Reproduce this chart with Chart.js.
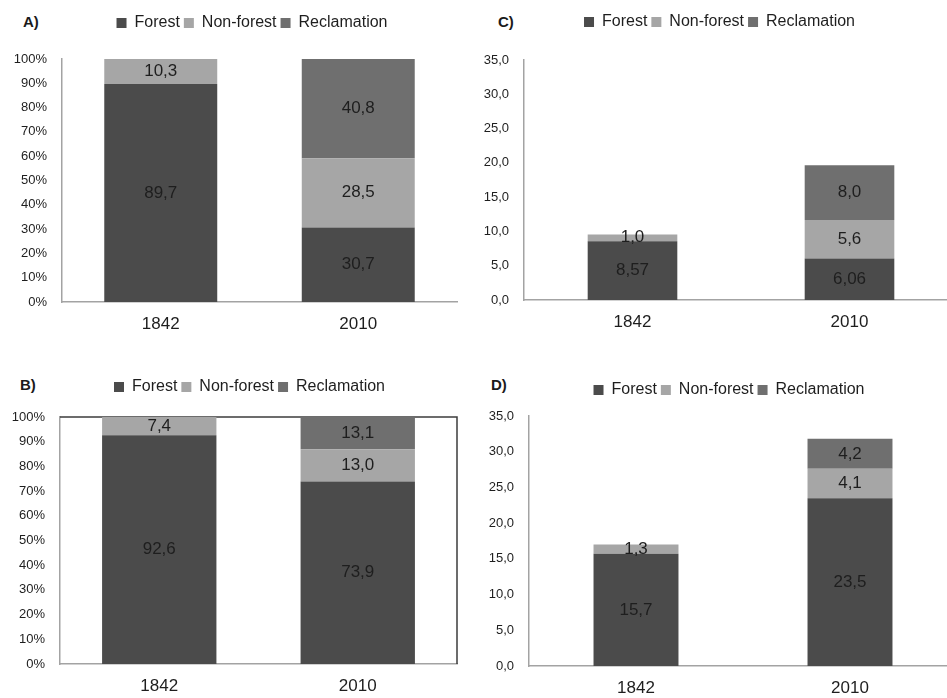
<!DOCTYPE html>
<html>
<head>
<meta charset="utf-8">
<script src="https://cdn.jsdelivr.net/npm/chart.js@4.4.0/dist/chart.umd.min.js"></script>
<style>
html,body{margin:0;padding:0;width:947px;height:698px;overflow:hidden;background:#fff;}
.panel{position:absolute;}
.tag{position:absolute;font:bold 15px 'Liberation Sans',Arial,sans-serif;color:#1a1a1a;line-height:18px;}
</style>
</head>
<body>
<div class="tag" style="left:23px;top:13px">A)</div>
<div class="tag" style="left:498px;top:13px">C)</div>
<div class="tag" style="left:20px;top:376px">B)</div>
<div class="tag" style="left:491px;top:376px">D)</div>
<div class="panel" style="left:0px;top:0px"><canvas id="cA" width="470" height="340"></canvas></div>
<div class="panel" style="left:470px;top:0px"><canvas id="cC" width="490" height="340"></canvas></div>
<div class="panel" style="left:0px;top:360px"><canvas id="cB" width="470" height="338"></canvas></div>
<div class="panel" style="left:470px;top:360px"><canvas id="cD" width="490" height="338"></canvas></div>
<script>
// ---- data ----
const categories = ['1842', '2010'];
const seriesNames = ['Forest', 'Non-forest', 'Reclamation'];

const A_forest = [89.7, 30.7];
const A_nonforest = [10.3, 28.5];
const A_reclamation = [null, 40.8];

const B_forest = [92.6, 73.9];
const B_nonforest = [7.4, 13.0];
const B_reclamation = [null, 13.1];

const C_forest = [8.57, 6.06];
const C_nonforest = [1.0, 5.6];
const C_reclamation = [null, 8.0];

const D_forest = [15.7, 23.5];
const D_nonforest = [1.3, 4.1];
const D_reclamation = [null, 4.2];

const percentTicks = [0, 10, 20, 30, 40, 50, 60, 70, 80, 90, 100];
const areaTicks = [0, 5, 10, 15, 20, 25, 30, 35];

// ---- styling ----
const FONT = "'Liberation Sans', Arial, sans-serif";
const colors = ['#4b4b4b', '#a6a6a6', '#6f6f6f'];
const axisColor = '#a3a3a3';
const textColor = '#1e1e1e';

const comma = (v, d) => v.toFixed(d).replace('.', ',');

const legendPlace = {
  id: 'legendPlace',
  afterLayout(chart, args, opts) {
    const lg = chart.legend;
    if (!lg) return;
    const pad = chart.options.plugins.legend.labels.padding;
    const fs = chart.options.plugins.legend.labels.font.size;
    const cx = (lg.left + lg.right) / 2;
    const cy = lg.top + pad + fs / 2;
    const dx = opts.x - cx, dy = opts.y - cy;
    lg.left += dx; lg.right += dx; lg.top += dy; lg.bottom += dy;
  }
};

const segLabels = {
  id: 'segLabels',
  afterDatasetsDraw(chart) {
    const ctx = chart.ctx;
    ctx.save();
    ctx.font = '17px ' + FONT;
    ctx.fillStyle = textColor;
    ctx.textAlign = 'center';
    ctx.textBaseline = 'middle';
    chart.data.datasets.forEach((ds, di) => {
      const meta = chart.getDatasetMeta(di);
      meta.data.forEach((el, i) => {
        const v = ds.data[i];
        if (v === null || v === undefined) return;
        const p = el.getProps(['x', 'y', 'base'], true);
        ctx.fillText(comma(v, ds.decimals || 1), p.x, (p.y + p.base) / 2);
      });
    });
    ctx.restore();
  }
};

const frame = {
  id: 'frame',
  beforeDatasetsDraw(chart, args, opts) {
    if (!opts.on) return;
    const a = chart.chartArea, ctx = chart.ctx;
    ctx.save();
    ctx.strokeStyle = '#3c3c3c';
    ctx.lineWidth = 1.5;
    ctx.beginPath();
    ctx.moveTo(a.left, a.top);
    ctx.lineTo(a.right, a.top);
    ctx.lineTo(a.right, a.bottom);
    ctx.stroke();
    ctx.restore();
  }
};

function makeChart(id, cfg) {
  const datasets = [cfg.forest, cfg.nonforest, cfg.reclamation].map((d, k) => ({
    label: seriesNames[k],
    data: d,
    backgroundColor: colors[k],
    borderWidth: 0,
    barPercentage: cfg.barPct,
    categoryPercentage: 1,
    decimals: (k === 0 && cfg.forestDecimals) ? cfg.forestDecimals : 1
  }));
  return new Chart(document.getElementById(id), {
    type: 'bar',
    data: { labels: categories, datasets },
    options: {
      responsive: false,
      animation: false,
      layout: { padding: { top: cfg.padTop, right: cfg.padRight, bottom: 0, left: 0 } },
      plugins: {
        legend: {
          position: 'top',
          labels: {
            boxWidth: 10, boxHeight: 10, padding: 4,
            color: textColor,
            font: { family: FONT, size: 16 }
          }
        },
        tooltip: { enabled: false },
        legendPlace: { x: cfg.legendX, y: cfg.legendY },
        frame: { on: !!cfg.frame }
      },
      scales: {
        x: {
          stacked: true,
          grid: { display: false, drawTicks: false },
          border: { display: true, color: axisColor, width: 1.5 },
          ticks: { color: textColor, font: { family: FONT, size: 17 }, padding: 12 },
          afterFit: s => { s.height = cfg.xHeight; }
        },
        y: {
          stacked: true,
          min: 0,
          max: cfg.max,
          grid: { display: false, drawTicks: false },
          border: { display: true, color: axisColor, width: 1.5 },
          afterBuildTicks: s => { s.ticks = cfg.ticks.map(v => ({ value: v })); },
          ticks: {
            color: textColor,
            font: { family: FONT, size: 13 },
            padding: 15,
            callback: cfg.tickFmt
          },
          afterFit: s => { s.width = cfg.yWidth; }
        }
      }
    },
    plugins: [legendPlace, segLabels, frame]
  });
}

const pctFmt = v => v + '%';
const areaFmt = v => comma(v, 1);

makeChart('cA', {
  forest: A_forest, nonforest: A_nonforest, reclamation: A_reclamation,
  max: 100, ticks: percentTicks, tickFmt: pctFmt,
  barPct: 0.572, padTop: 29, padRight: 13, yWidth: 62, xHeight: 38,
  legendX: 252, legendY: 23
});
makeChart('cB', {
  forest: B_forest, nonforest: B_nonforest, reclamation: B_reclamation,
  max: 100, ticks: percentTicks, tickFmt: pctFmt,
  barPct: 0.576, padTop: 27, padRight: 13, yWidth: 60, xHeight: 34,
  legendX: 249.5, legendY: 27, frame: true
});
makeChart('cC', {
  forest: C_forest, nonforest: C_nonforest, reclamation: C_reclamation,
  max: 35, ticks: areaTicks, tickFmt: areaFmt, forestDecimals: 2,
  barPct: 0.413, padTop: 30, padRight: 2, yWidth: 54, xHeight: 40,
  legendX: 249.5, legendY: 22
});
makeChart('cD', {
  forest: D_forest, nonforest: D_nonforest, reclamation: D_reclamation,
  max: 35, ticks: areaTicks, tickFmt: areaFmt,
  barPct: 0.397, padTop: 26, padRight: 3, yWidth: 59, xHeight: 32,
  legendX: 259, legendY: 30
});
</script>
</body>
</html>
